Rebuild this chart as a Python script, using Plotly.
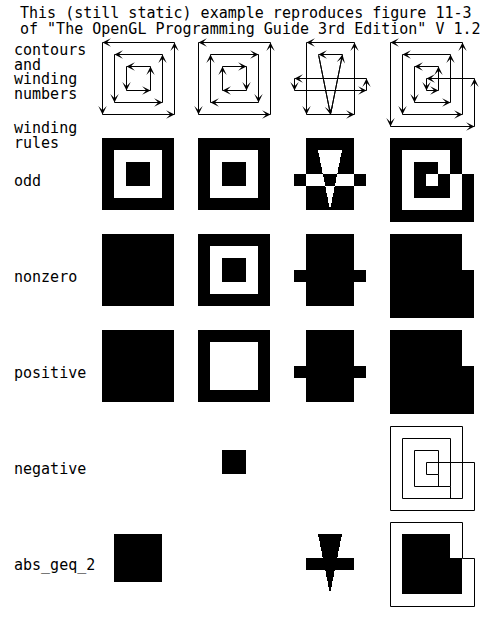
import plotly.graph_objects as go

# contours in grid units (1 unit = 12 px), y grows downward like the picture
nested_ccw = [
    [(0, 0), (0, 6), (6, 6), (6, 0)],
    [(1, 1), (1, 5), (5, 5), (5, 1)],
    [(2, 2), (2, 4), (4, 4), (4, 2)],
]
nested_mixed = [
    [(0, 0), (0, 6), (6, 6), (6, 0)],
    [(1, 1), (5, 1), (5, 5), (1, 5)],
    [(2, 2), (4, 2), (4, 4), (2, 4)],
]
rect_tri_bar = [
    [(1, 0), (1, 6), (5, 6), (5, 0)],
    [(3, 6), (4, 1), (2, 1)],
    [(0, 3), (0, 4), (6, 4), (6, 3)],
]
spiral = [
    [(0, 0), (0, 7), (7, 7), (7, 3), (3, 3), (3, 4), (4, 4), (4, 2),
     (2, 2), (2, 5), (5, 5), (5, 1), (1, 1), (1, 6), (6, 6), (6, 0)],
]
contour_sets = [nested_ccw, nested_mixed, rect_tri_bar, spiral]

rule_names = ["odd", "nonzero", "positive", "negative", "abs_geq_2"]
rules = {
    "odd": lambda w: w % 2 == 1,
    "nonzero": lambda w: w != 0,
    "positive": lambda w: w > 0,
    "negative": lambda w: w < 0,
    "abs_geq_2": lambda w: abs(w) >= 2,
}

# outlines that show up in the last column
outlines = {
    ("negative", 3): [spiral[0] + [spiral[0][0]], [(5, 5), (5, 6)], [(4, 4), (4, 5)]],
    ("abs_geq_2", 3): [[(0, 0), (6, 0), (6, 3), (7, 3), (7, 7), (0, 7), (0, 0)]],
}

title_lines = ["This (still static) example reproduces figure 11-3",
               'of "The OpenGL Programming Guide 3rd Edition" V 1.2']
head_lines = ["contours", "and", "winding", "numbers"]
rules_head = ["winding", "rules"]

# layout in window pixels
W, H = 503, 625
UNIT = 12
X0, Y0, PITCH = 102, 42, 96
MONO = "DejaVu Sans Mono"


def row_spans(contours, y, keep):
    hits = []
    for poly in contours:
        for (x1, y1), (x2, y2) in zip(poly, poly[1:] + poly[:1]):
            if y1 != y2 and min(y1, y2) <= y < max(y1, y2):
                xc = x1 + (y - y1) * (x2 - x1) / (y2 - y1)
                hits.append((xc, 1 if y2 < y1 else -1))
    hits.sort()
    runs = []
    w = 0
    for k in range(len(hits) - 1):
        w -= hits[k][1]
        a, b = round(hits[k][0] * UNIT), round(hits[k + 1][0] * UNIT)
        if keep(w) and b > a:
            if runs and runs[-1][1] == a:
                runs[-1] = (runs[-1][0], b)
            else:
                runs.append((a, b))
    return tuple(runs)


def fill_rects(contours, keep):
    top = max(p[1] for poly in contours for p in poly)
    rects, cur, start = [], None, 0
    for j in range(top * UNIT + 1):
        runs = row_spans(contours, (j + 0.5) / UNIT, keep) if j < top * UNIT else None
        if runs != cur:
            if cur:
                rects += [(a, b, start, j) for a, b in cur]
            cur, start = runs, j
    return rects


fig = go.Figure()

# filled regions, one trace per winding rule
for r, name in enumerate(rule_names):
    xs, ys = [], []
    oy = Y0 + PITCH * (r + 1)
    for c, contours in enumerate(contour_sets):
        ox = X0 + PITCH * c
        for a, b, t, u in fill_rects(contours, rules[name]):
            xs += [ox + a, ox + b, ox + b, ox + a, ox + a, None]
            ys += [oy + t, oy + t, oy + u, oy + u, oy + t, None]
    fig.add_trace(go.Scatter(x=xs, y=ys, mode="lines", fill="toself",
                             fillcolor="black", line=dict(width=0, color="black"),
                             hoverinfo="skip", showlegend=False))

# contour lines (half-pixel shifted axes keep 1px lines crisp)
arrows = []
for c, contours in enumerate(contour_sets):
    ox = X0 + PITCH * c
    for poly in contours:
        closed = poly + [poly[0]]
        fig.add_trace(go.Scatter(
            x=[ox + UNIT * p[0] for p in closed], y=[Y0 + UNIT * p[1] for p in closed],
            mode="lines", line=dict(color="black", width=1),
            xaxis="x2", yaxis="y2", hoverinfo="skip", showlegend=False))
        for p, q in zip(closed[:-1], closed[1:]):
            arrows.append(dict(
                x=ox + UNIT * q[0], y=Y0 + UNIT * q[1],
                ax=ox + UNIT * p[0], ay=Y0 + UNIT * p[1],
                xref="x2", yref="y2", axref="x2", ayref="y2", text="",
                showarrow=True, arrowhead=3, arrowsize=1.4, arrowwidth=1,
                arrowcolor="black", standoff=0))

for (name, c), lines in outlines.items():
    ox = X0 + PITCH * c
    oy = Y0 + PITCH * (rule_names.index(name) + 1)
    xs, ys = [], []
    for line in lines:
        xs += [ox + UNIT * p[0] for p in line] + [None]
        ys += [oy + UNIT * p[1] for p in line] + [None]
    fig.add_trace(go.Scatter(x=xs, y=ys, mode="lines", line=dict(color="black", width=1),
                             xaxis="x2", yaxis="y2", hoverinfo="skip", showlegend=False))

# texts
texts = []
for i, s in enumerate(title_lines):
    texts.append(dict(x=18, y=13 + 16 * i, text=s))
for i, s in enumerate(head_lines):
    texts.append(dict(x=12, y=50 + 14.7 * i, text=s))
for i, s in enumerate(rules_head):
    texts.append(dict(x=12, y=128 + 14.5 * i, text=s))
for r, name in enumerate(rule_names):
    texts.append(dict(x=12, y=Y0 + PITCH * (r + 1) + 43, text=name))
for t in texts:
    t.update(xref="x", yref="y", xanchor="left", yanchor="middle", showarrow=False,
             font=dict(family=MONO, size=15, color="black"))

fig.update_layout(
    width=W, height=H,
    margin=dict(l=0, r=0, t=0, b=0),
    paper_bgcolor="white", plot_bgcolor="white",
    xaxis=dict(range=[0, W], visible=False, fixedrange=True),
    yaxis=dict(range=[H, 0], visible=False, fixedrange=True),
    xaxis2=dict(range=[-0.5, W - 0.5], overlaying="x", visible=False, fixedrange=True),
    yaxis2=dict(range=[H - 0.5, -0.5], overlaying="y", visible=False, fixedrange=True),
    annotations=arrows + texts,
    showlegend=False,
)

# the page body has a default 8px margin; drop it so the figure fills the window
fig.write_html("out.html", config={"displayModeBar": False},
               post_script="document.body.style.margin = '0';")
